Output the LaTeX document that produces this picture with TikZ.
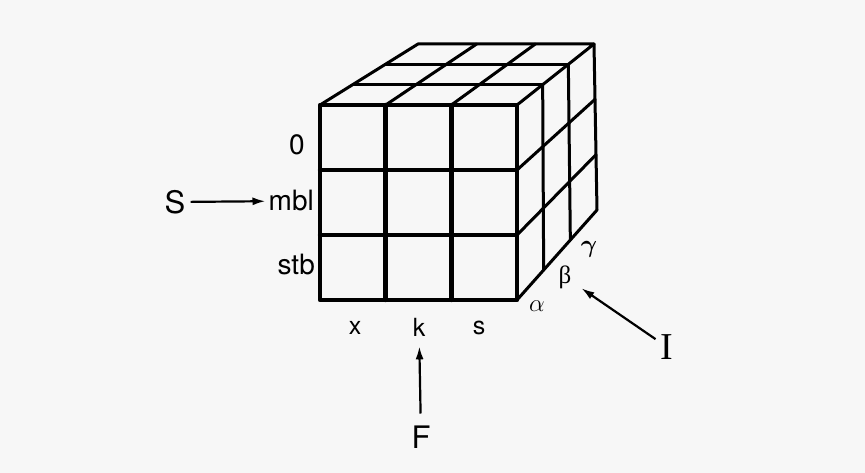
\documentclass[tikz,border=0pt]{standalone}
\usepackage{amsmath}
\usepackage{fontspec}
\setmainfont{TeX Gyre Heros}
\newfontfamily\seriffont{Liberation Serif}
\usetikzlibrary{calc,arrows.meta}
\tikzset{
  frontline/.style={line width=4.4pt, line cap=round, line join=round},
  backline/.style={line width=3pt, line cap=round, line join=round},
  lbl/.style={inner sep=0pt, font=\fontsize{28}{32}\selectfont},
  axlbl/.style={inner sep=0pt, font=\fontsize{25}{29}\selectfont},
  biglbl/.style={inner sep=0pt, font=\fontsize{31}{35}\selectfont},
  greek/.style={inner sep=0pt, font=\fontsize{25}{28}\selectfont},
  arr/.style={line width=2.2pt, -{Latex[length=13pt,width=8pt]}},
}
\begin{document}
\begin{tikzpicture}[x=1pt,y=-1pt]
\useasboundingbox (0,0) rectangle (865,473);
\fill[black!3] (0,0) rectangle (865,473);
% cube corners
\coordinate (A) at (320,105);
\coordinate (B) at (517,105);
\coordinate (C) at (517,300);
\coordinate (D) at (320,300);
\coordinate (E) at (418,44);
\coordinate (F) at (594,44);
\coordinate (G) at (597,210);
% top face
\draw[backline] (A) -- (E) -- (F) -- (B);
\foreach \t in {0.3333,0.6667}{
  \draw[backline] ($(A)!\t!(B)$) -- ($(E)!\t!(F)$);
  \draw[backline] ($(A)!\t!(E)$) -- ($(B)!\t!(F)$);
}
% right face
\draw[backline] (F) -- (G) -- (C);
\foreach \t in {0.3333,0.6667}{
  \draw[backline] ($(B)!\t!(F)$) -- ($(C)!\t!(G)$);
  \draw[backline] ($(B)!\t!(C)$) -- ($(F)!\t!(G)$);
}
% front face
\draw[frontline] (A) rectangle (C);
\foreach \t in {0.3333,0.6667}{
  \draw[frontline] ($(A)!\t!(B)$) -- ($(D)!\t!(C)$);
  \draw[frontline] ($(A)!\t!(D)$) -- ($(B)!\t!(C)$);
}
% labels
\node[lbl] (zero) at (297,145) {0};
\node[lbl,anchor=east] (mbl) at (314,201) {mbl};
\node[lbl,anchor=east] (stb) at (315,265) {stb};
\node[biglbl] (S) at (175,202) {S};
\node[axlbl] (x) at (355,328) {x};
\node[axlbl] (k) at (419,327) {k};
\node[axlbl] (s) at (479,328) {s};
\node[biglbl] (Fl) at (421,437) {F};
\node[greek] (al) at (537,306) {$\alpha$};
\node[greek] (be) at (565,277) {\seriffont β};
\node[greek] (ga) at (589,249) {$\boldsymbol{\gamma}$};
\node[inner sep=0pt, font=\seriffont\fontsize{38}{40}\selectfont] (I) at (667,347) {I};
% arrows
\draw[arr, shorten <=5pt, shorten >=3pt] (S) -- (mbl);
\draw[arr, shorten <=12pt, shorten >=10pt] (Fl) -- (k);
\draw[arr, shorten <=6pt, shorten >=12pt] (I) -- (be);
\end{tikzpicture}
\end{document}
